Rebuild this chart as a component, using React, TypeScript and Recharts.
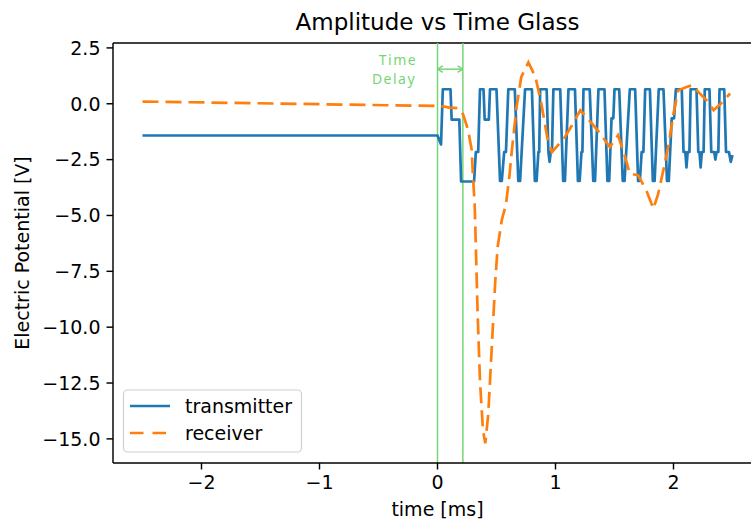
import React from 'react';
import { LineChart, Line, XAxis, YAxis, ReferenceLine } from 'recharts';

// ---- data (time in ms, potential in V) ----
const transmitterPoints: [number, number][] = [
  [-2.5, -1.42], [0.0, -1.42], [0.03, -1.82], [0.045, 0.65], [0.11, 0.65],
  [0.12, -0.71], [0.185, -0.71], [0.2, -3.48], [0.31, -3.48], [0.325, -2.16],
  [0.345, -2.16], [0.36, 0.65], [0.39, 0.65], [0.4, -0.71], [0.435, -0.71],
  [0.445, 0.65], [0.5, 0.65], [0.53, -3.45], [0.545, -3.45], [0.565, -2.16],
  [0.58, -2.16], [0.6, 0.65], [0.655, 0.65], [0.685, -3.45], [0.7, -3.45],
  [0.742, 0.65], [0.8, 0.65], [0.825, -3.45], [0.84, -3.45], [0.855, -2.16],
  [0.862, -2.16], [0.87, 0.65], [0.925, 0.65], [0.94, -2.16], [0.95, -2.6],
  [0.96, -2.16], [0.97, -2.16], [0.982, 0.65], [1.04, 0.65], [1.065, -3.45],
  [1.08, -3.45], [1.11, 0.65], [1.165, 0.65], [1.19, -3.45], [1.205, -3.45],
  [1.22, -2.16], [1.228, -2.16], [1.237, 0.65], [1.29, 0.65], [1.32, -3.45],
  [1.335, -3.45], [1.364, 0.65], [1.415, 0.65], [1.44, -3.45], [1.455, -3.45],
  [1.475, -0.65], [1.49, -0.65], [1.5, 0.65], [1.54, 0.65], [1.57, -3.45],
  [1.585, -3.45], [1.63, 0.65], [1.675, 0.65], [1.7, -3.45], [1.715, -3.45],
  [1.73, -2.16], [1.745, -2.16], [1.76, 0.65], [1.8, 0.65], [1.825, -3.45],
  [1.84, -3.45], [1.875, 0.65], [1.915, 0.65], [1.945, -3.45], [1.96, -3.45],
  [1.985, -0.65], [2.005, -0.65], [2.02, 0.65], [2.07, 0.65], [2.085, -2.16],
  [2.1, -2.16], [2.11, -2.85], [2.12, -2.16], [2.135, -2.16], [2.145, 0.65],
  [2.195, 0.65], [2.21, -2.16], [2.22, -2.16], [2.23, -2.85], [2.24, -2.16],
  [2.255, -2.16], [2.265, 0.65], [2.305, 0.65], [2.32, -2.16], [2.345, -2.16],
  [2.355, -2.5], [2.365, -2.16], [2.38, -2.16], [2.39, 0.65], [2.43, 0.65],
  [2.445, -2.16], [2.47, -2.16], [2.485, -2.6], [2.5, -2.3],
];

const receiverPoints: [number, number][] = [
  [-2.5, 0.1], [0.0, -0.1], [0.05, -0.12], [0.1, -0.17], [0.17, -0.2],
  [0.2, -0.3], [0.22, -0.52], [0.26, -1.19], [0.29, -2.08], [0.3, -3.2],
  [0.315, -4.5], [0.325, -6.4], [0.34, -9.4], [0.36, -12.4], [0.385, -14.6],
  [0.405, -15.2], [0.43, -13.9], [0.46, -10.9], [0.49, -7.9], [0.51, -6.4],
  [0.545, -5.2], [0.58, -4.5], [0.61, -3.2], [0.63, -2.1], [0.67, -0.14],
  [0.71, 1.2], [0.77, 1.85], [0.83, 1.2], [0.88, 0.0], [0.93, -1.49],
  [0.97, -2.16], [1.02, -1.86], [1.08, -1.49], [1.14, -0.96], [1.21, -0.29],
  [1.25, -0.52], [1.31, -0.89], [1.38, -1.34], [1.46, -1.94], [1.53, -1.41],
  [1.59, -2.38], [1.63, -3.13], [1.7, -3.2], [1.77, -3.88], [1.83, -4.7],
  [1.87, -4.03], [1.92, -2.83], [1.96, -1.79], [2.0, -0.44], [2.04, 0.6],
  [2.11, 0.75], [2.16, 0.83], [2.21, 0.53], [2.28, 0.16], [2.34, -0.29],
  [2.4, 0.0], [2.48, 0.46],
];

const xTicks = [-2, -1, 0, 1, 2];
const yTicks = [2.5, 0, -2.5, -5, -7.5, -10, -12.5, -15];
const xDomain: [number, number] = [-2.75, 2.75];
const yDomain: [number, number] = [-16.08, 2.72];
const delayStart = 0;
const delayEnd = 0.215;
const arrowLevel = 1.55;

const seriesNames = ['transmitter', 'receiver'];
const titleText = 'Amplitude vs Time Glass';
const xLabelText = 'time [ms]';
const yLabelText = 'Electric Potential [V]';
const delayLabel = ['Time', 'Delay'];

const transmitterData = transmitterPoints.map(([t, v]) => ({ t, v }));
const receiverData = receiverPoints.map(([t, v]) => ({ t, v }));

const BLUE = '#1f77b4';
const ORANGE = '#ff7f0e';
const GREEN = '#76d676';
const FONT = '"DejaVu Sans", sans-serif';
const FS = 19;
const DASH = '16 7';

const fmtY = (v: number) => (v < 0 ? '\u2212' : '') + Math.abs(v).toFixed(1);
const fmtX = (v: number) => (v < 0 ? '\u2212' : '') + Math.abs(v).toString();

const XTick = (props: any) => {
  const { x, y, payload } = props;
  return (
    <text x={x} y={y} dy="0.71em" textAnchor="middle" fontFamily={FONT} fontSize={FS} fill="#000">
      {fmtX(payload.value)}
    </text>
  );
};

const YTick = (props: any) => {
  const { x, y, payload } = props;
  return (
    <text x={x} y={y} dy="0.36em" textAnchor="end" fontFamily={FONT} fontSize={FS} fill="#000">
      {fmtY(payload.value)}
    </text>
  );
};

export default function App() {
  return (
    <div style={{ position: 'absolute', left: 0, top: 0, width: 751, height: 523, overflow: 'hidden', background: '#fff' }}>
      <LineChart
        width={800}
        height={523}
        margin={{ top: 43, right: 38, left: 8, bottom: 10 }}
      >
        <XAxis
          type="number"
          dataKey="t"
          domain={xDomain}
          ticks={xTicks}
          allowDataOverflow
          tick={<XTick />}
          tickSize={6.5}
          tickMargin={6}
          height={50}
          axisLine={{ stroke: '#000', strokeWidth: 1.45 }}
          tickLine={{ stroke: '#000', strokeWidth: 1.45 }}
        />
        <YAxis
          type="number"
          domain={yDomain}
          ticks={yTicks}
          allowDataOverflow
          tick={<YTick />}
          tickSize={6.5}
          tickMargin={6}
          width={105}
          axisLine={{ stroke: '#000', strokeWidth: 1.45 }}
          tickLine={{ stroke: '#000', strokeWidth: 1.45 }}
        />
        <ReferenceLine y={yDomain[1]} stroke="#000" strokeWidth={1.45} ifOverflow="visible" />
        <ReferenceLine x={xDomain[1]} stroke="#000" strokeWidth={1.45} ifOverflow="visible" />
        <ReferenceLine x={delayStart} stroke={GREEN} strokeWidth={1.5} ifOverflow="visible" />
        <ReferenceLine x={delayEnd} stroke={GREEN} strokeWidth={1.5} ifOverflow="visible" />
        <ReferenceLine
          segment={[{ x: delayStart, y: arrowLevel }, { x: delayEnd, y: arrowLevel }]}
          stroke={GREEN}
          strokeWidth={1.5}
        />
        <ReferenceLine
          segment={[{ x: delayStart, y: arrowLevel }, { x: delayStart + 0.045, y: arrowLevel + 0.15 }]}
          stroke={GREEN}
          strokeWidth={1.5}
        />
        <ReferenceLine
          segment={[{ x: delayStart, y: arrowLevel }, { x: delayStart + 0.045, y: arrowLevel - 0.15 }]}
          stroke={GREEN}
          strokeWidth={1.5}
        />
        <ReferenceLine
          segment={[{ x: delayEnd, y: arrowLevel }, { x: delayEnd - 0.045, y: arrowLevel + 0.15 }]}
          stroke={GREEN}
          strokeWidth={1.5}
        />
        <ReferenceLine
          segment={[{ x: delayEnd, y: arrowLevel }, { x: delayEnd - 0.045, y: arrowLevel - 0.15 }]}
          stroke={GREEN}
          strokeWidth={1.5}
        />
        <Line
          data={transmitterData}
          dataKey="v"
          name={seriesNames[0]}
          type="linear"
          stroke={BLUE}
          strokeWidth={2.7}
          dot={false}
          isAnimationActive={false}
          strokeLinejoin="round"
        />
        <Line
          data={receiverData}
          dataKey="v"
          name={seriesNames[1]}
          type="linear"
          stroke={ORANGE}
          strokeWidth={2.7}
          strokeDasharray={DASH}
          dot={false}
          isAnimationActive={false}
        />
      </LineChart>
      <svg
        width={751}
        height={523}
        style={{ position: 'absolute', left: 0, top: 0, pointerEvents: 'none' }}
      >
        <text x={437.5} y={30} textAnchor="middle" fontFamily={FONT} fontSize={23} fill="#000">
          {titleText}
        </text>
        <text x={437.5} y={516} textAnchor="middle" fontFamily={FONT} fontSize={FS} fill="#000">
          {xLabelText}
        </text>
        <text
          x={0}
          y={0}
          transform="translate(29,253) rotate(-90)"
          textAnchor="middle"
          fontFamily={FONT}
          fontSize={FS}
          fill="#000"
        >
          {yLabelText}
        </text>
        <text x={398} y={65} textAnchor="middle" fontFamily='"Noto Sans", sans-serif' fontSize={14} letterSpacing={1.5} fill={GREEN}>
          {delayLabel[0]}
        </text>
        <text x={394} y={84} textAnchor="middle" fontFamily='"Noto Sans", sans-serif' fontSize={14} letterSpacing={1.5} fill={GREEN}>
          {delayLabel[1]}
        </text>
        <rect x={123.5} y={390} width={178} height={62} rx={4} ry={4} fill="rgba(255,255,255,0.8)" stroke="#d0d0d0" strokeWidth={1.2} />
        <line x1={130} y1={406} x2={170} y2={406} stroke={BLUE} strokeWidth={2.7} />
        <line x1={130} y1={433} x2={170} y2={433} stroke={ORANGE} strokeWidth={2.7} strokeDasharray="13.5 9" />
        <text x={185} y={412.5} fontFamily={FONT} fontSize={FS} fill="#000">
          {seriesNames[0]}
        </text>
        <text x={185} y={439.5} fontFamily={FONT} fontSize={FS} fill="#000">
          {seriesNames[1]}
        </text>
      </svg>
    </div>
  );
}
